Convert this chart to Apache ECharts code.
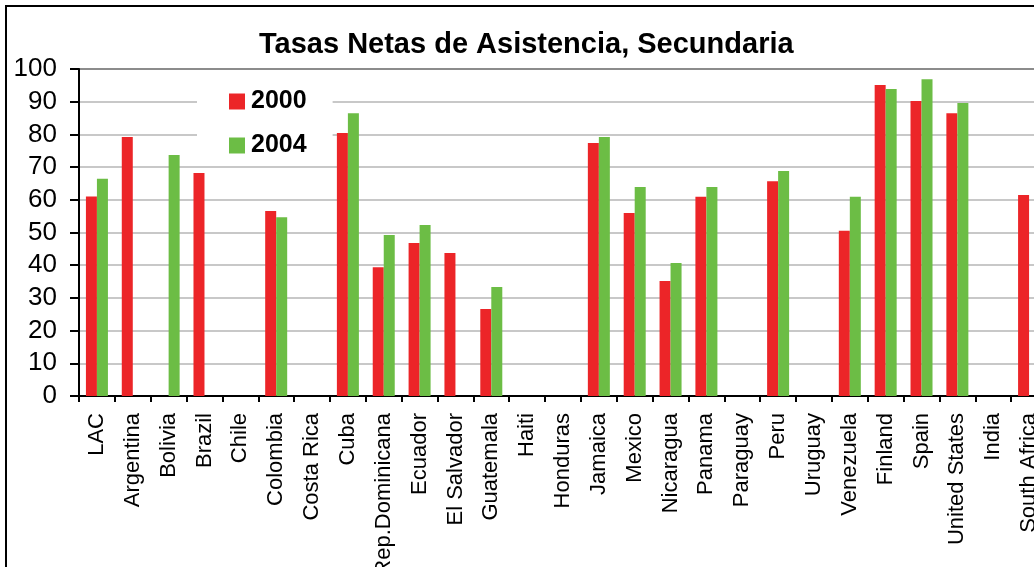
<!DOCTYPE html>
<html>
<head>
<meta charset="utf-8">
<script src="https://cdn.jsdelivr.net/npm/echarts@6/dist/echarts.min.js"></script>
<style>
html,body{margin:0;padding:0;background:#fff;overflow:hidden;}
#chart{width:1034px;height:567px;position:absolute;left:0;top:0;}
#frame{position:absolute;left:5px;top:5px;width:2000px;height:2000px;border-left:2px solid #000;border-top:2px solid #000;pointer-events:none;}
</style>
</head>
<body>
<div id="chart"></div>
<div id="frame"></div>
<script>
const categories = ["LAC","Argentina","Bolivia","Brazil","Chile","Colombia","Costa Rica","Cuba","Rep.Dominicana","Ecuador","El Salvador","Guatemala","Haiti","Honduras","Jamaica","Mexico","Nicaragua","Panama","Paraguay","Peru","Uruguay","Venezuela","Finland","Spain","United States","India","South Africa"];
const values2000 = [61,79.2,null,68.2,null,56.6,null,80.4,39.4,46.8,43.7,26.6,null,null,77.4,56,35.2,60.9,null,65.7,null,50.5,95.1,90.2,86.5,null,61.5];
const values2004 = [66.4,null,73.7,null,null,54.7,null,86.5,49.2,52.3,null,33.3,null,null,79.2,63.9,40.7,63.9,null,68.8,null,60.9,93.9,96.9,89.6,null,null];
const seriesNames = ["2000","2004"];
const yTicks = [0,10,20,30,40,50,60,70,80,90,100];
const titleText = "Tasas Netas de Asistencia, Secundaria";

const FONT = "'Liberation Sans', Arial, sans-serif";
const chart = echarts.init(document.getElementById('chart'), null, {renderer:'canvas'});
const gridColors = yTicks.map((t,i)=> i === yTicks.length-1 ? '#8c8c8c' : '#c8c8c8');
chart.setOption({
  animation:false,
  backgroundColor:'#fff',
  title:{
    text:titleText,
    left:259, top:30, padding:0,
    textStyle:{fontFamily:FONT,fontSize:29,fontWeight:'bold',color:'#000'}
  },
  legend:{
    orient:'vertical',
    left:197, top:75,
    padding:[14,26,4,32],
    backgroundColor:'#fff',
    itemWidth:16, itemHeight:16, itemGap:19,
    icon:'rect',
    data:seriesNames,
    textStyle:{fontFamily:FONT,fontSize:25,fontWeight:'bold',color:'#000',padding:[0,0,0,1]}
  },
  grid:{left:79, top:69, right:-13, bottom:171, containLabel:false, outerBoundsMode:'none'},
  xAxis:{
    type:'category',
    data:categories,
    boundaryGap:true,
    axisLine:{lineStyle:{color:'#000',width:2}},
    axisTick:{show:true,length:6,lineStyle:{color:'#000',width:2}},
    axisLabel:{rotate:90,margin:17,interval:0,fontFamily:FONT,fontSize:22,color:'#000'},
    splitLine:{show:false}
  },
  yAxis:{
    type:'value',
    min:0,max:100,interval:10,
    axisLine:{show:true,lineStyle:{color:'#000',width:2}},
    axisTick:{show:true,length:9,lineStyle:{color:'#000',width:2}},
    axisLabel:{margin:22,fontFamily:FONT,fontSize:26,color:'#000'},
    splitLine:{show:true,lineStyle:{color:gridColors,width:2}}
  },
  series:[
    {name:seriesNames[0],type:'bar',data:values2000,barWidth:11,barGap:'0%',itemStyle:{color:'#EC2528'}},
    {name:seriesNames[1],type:'bar',data:values2004,barWidth:11,barGap:'0%',itemStyle:{color:'#6CBD45'}}
  ]
});
</script>
</body>
</html>
